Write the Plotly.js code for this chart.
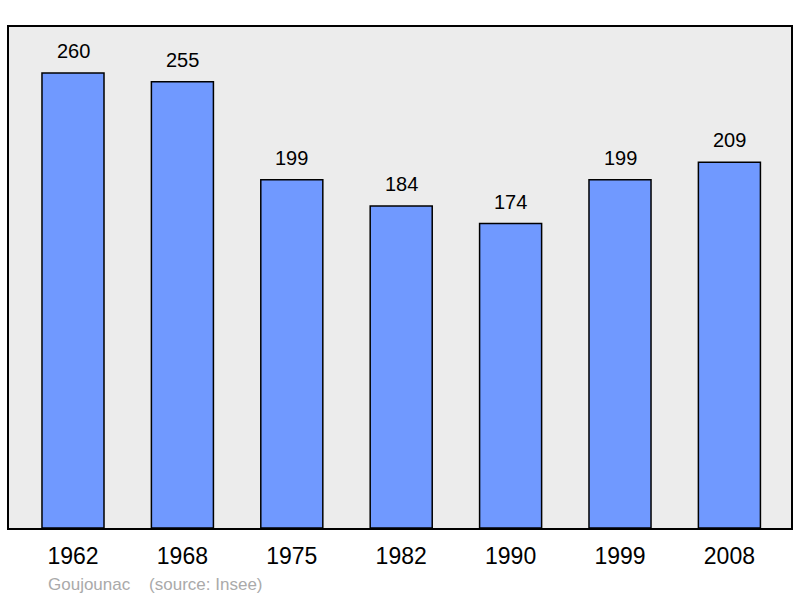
<!DOCTYPE html>
<html><head><meta charset="utf-8">
<script src="https://cdn.plot.ly/plotly-3.0.1.min.js"></script>
<style>html,body{margin:0;padding:0;background:#fff;}#chart{width:800px;height:598px;}</style>
</head><body><div id="chart"></div>
<script>
const years = ["1962","1968","1975","1982","1990","1999","2008"];
const population = [260,255,199,184,174,199,209];
const footerText = "Goujounac    (source: Insee)";

const xs = years.map((_, i) => i);
const annotations = years.map((y, i) => ({
  x: i, y: population[i], xref: 'x', yref: 'y',
  text: String(population[i]), showarrow: false,
  yanchor: 'bottom', yshift: 9,
  font: {family: 'Liberation Sans, Arial, sans-serif', size: 20, color: '#000'}
}));
annotations.push({
  xref: 'paper', yref: 'paper', x: 37/782, y: -0.112,
  xanchor: 'left', yanchor: 'middle', showarrow: false,
  text: footerText,
  font: {family: 'Liberation Sans, Arial, sans-serif', size: 17, color: '#aaaaaa'}
});

const trace = {
  type: 'bar', x: xs, y: population, width: 0.567,
  marker: {color: '#7099ff', line: {color: '#000', width: 1.5}},
  hoverinfo: 'none'
};

const layout = {
  width: 800, height: 598,
  margin: {l: 9, r: 9, t: 27, b: 70},
  paper_bgcolor: '#ffffff', plot_bgcolor: '#ececec',
  showlegend: false,
  xaxis: {range: [-0.585, 6.563], tickvals: xs, ticktext: years, showgrid: false, zeroline: false,
    showline: true, mirror: true, linecolor: '#000', linewidth: 2, ticks: '', ticklabelstandoff: 6,
    tickfont: {family: 'Liberation Sans, Arial, sans-serif', size: 23, color: '#000'}, fixedrange: true},
  yaxis: {range: [0, 286.3], showgrid: false, zeroline: false, showticklabels: false,
    showline: true, mirror: true, linecolor: '#000', linewidth: 2, ticks: '', fixedrange: true},
  annotations: annotations
};
Plotly.newPlot('chart', [trace], layout, {displayModeBar: false, staticPlot: true});
</script></body></html>
